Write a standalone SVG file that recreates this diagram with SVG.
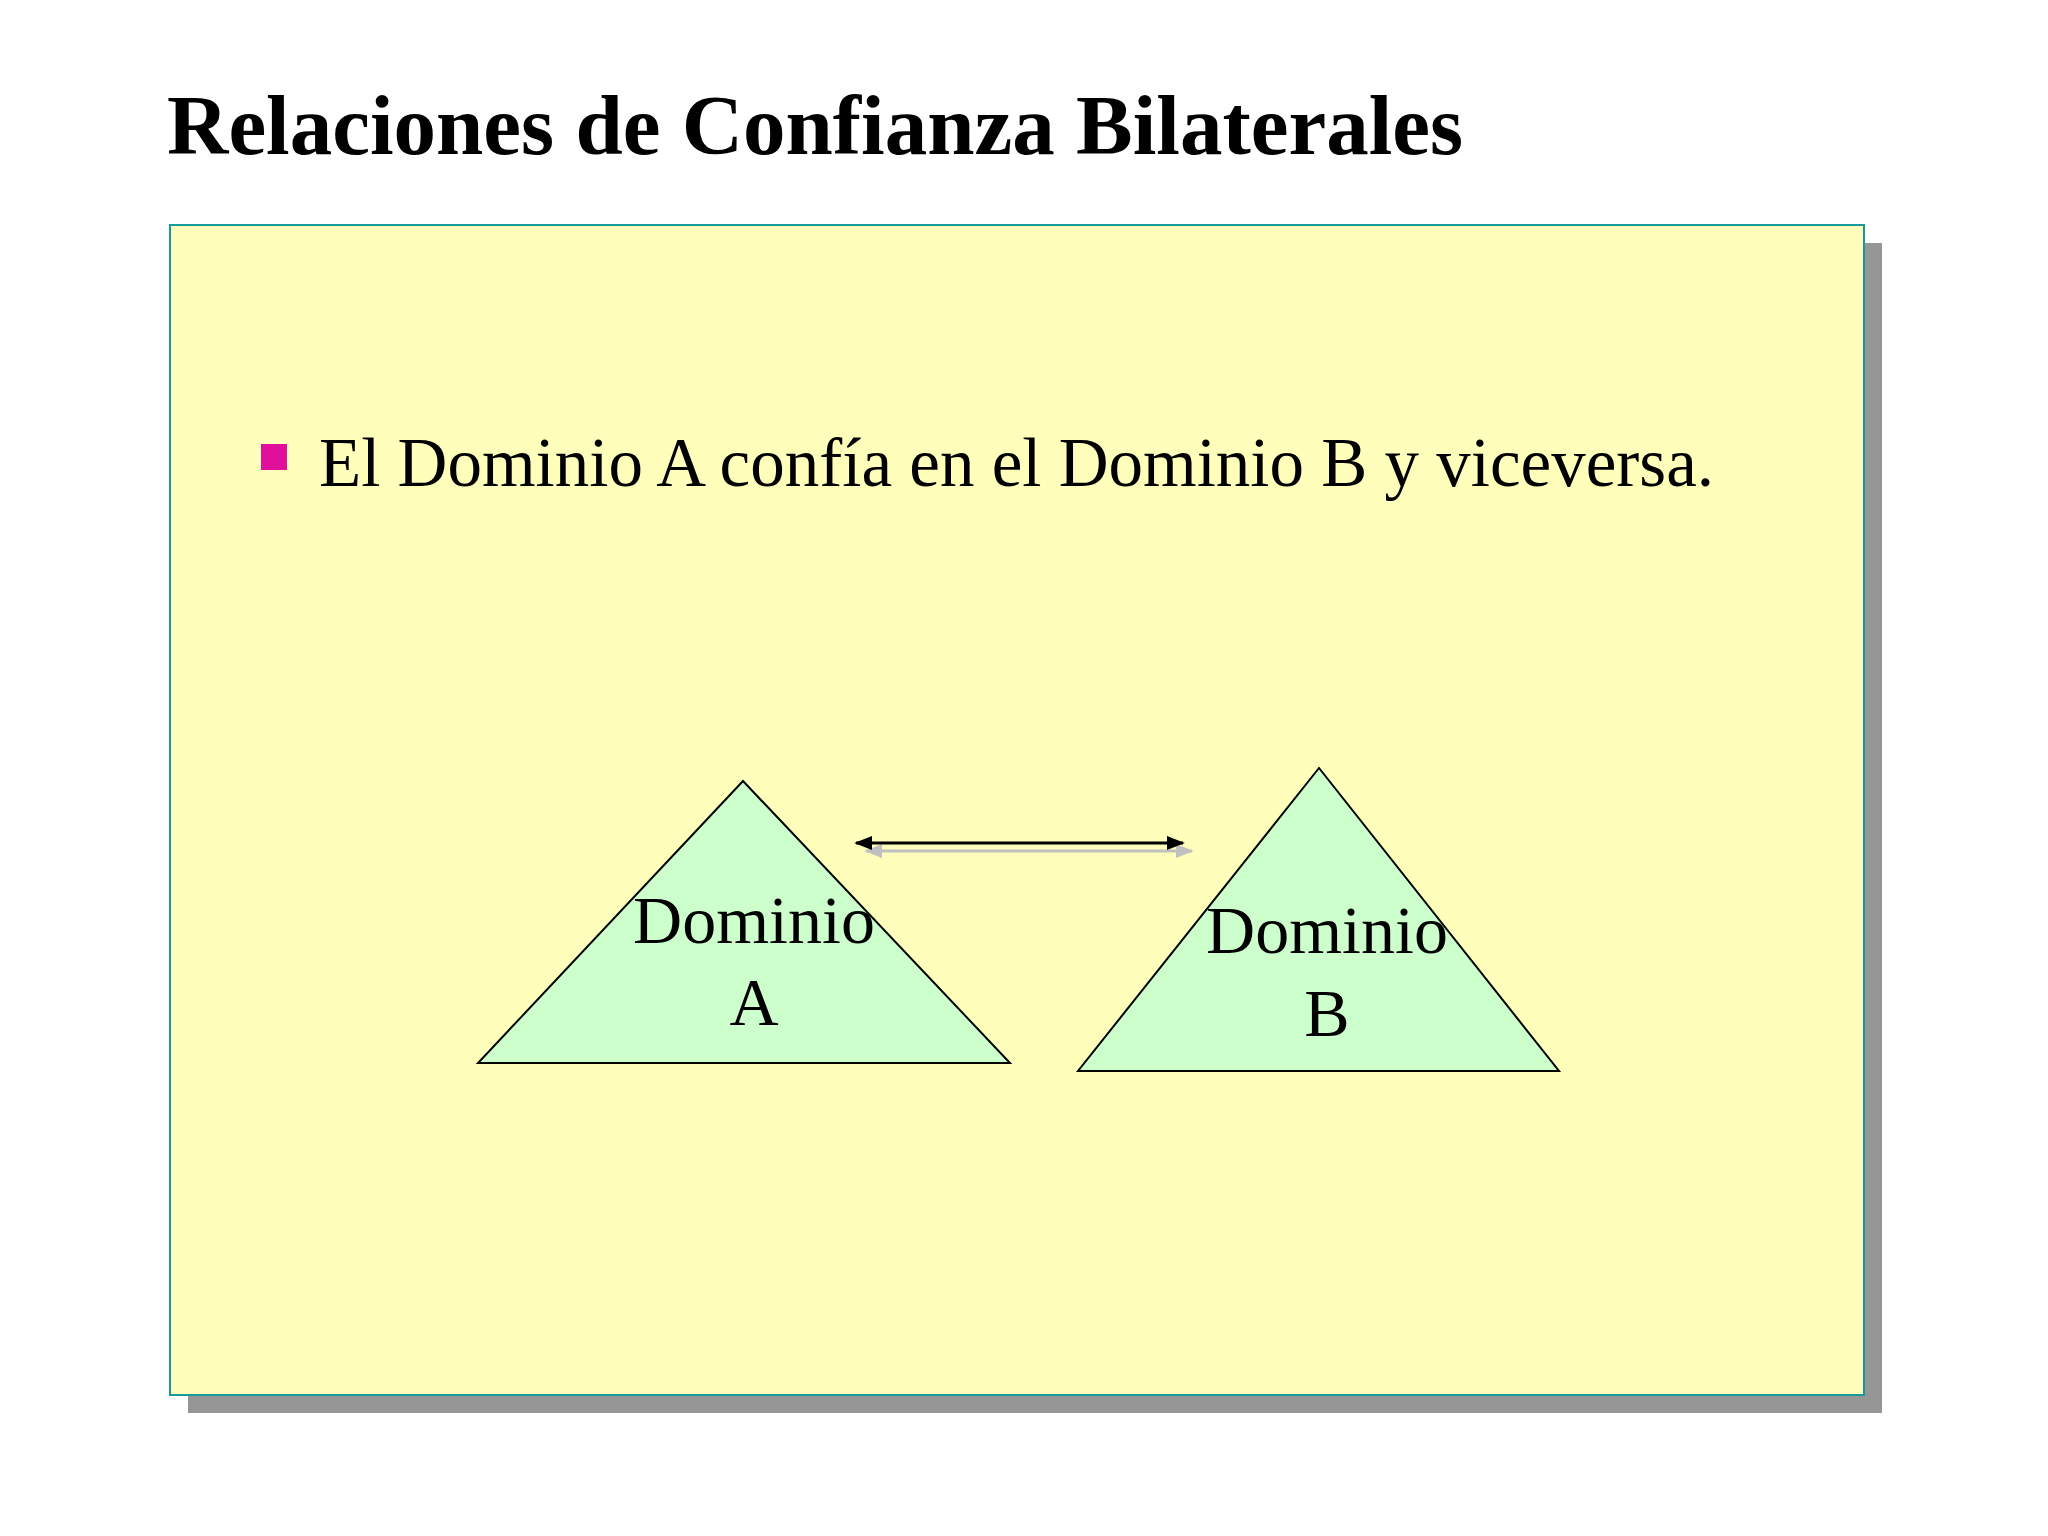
<svg xmlns="http://www.w3.org/2000/svg" width="2048" height="1536" viewBox="0 0 2048 1536">
<style>
.t{font-family:"Liberation Serif",serif;fill:#000}
.tri{fill:#ccffcc;stroke:#000;stroke-width:2}
</style>
<defs>
<marker id="ah" viewBox="0 0 10 10" refX="9" refY="5" markerWidth="6" markerHeight="6" orient="auto-start-reverse"><path d="M0,1 L10,5 L0,9 Z" fill="#000"/></marker>
<marker id="ahg" viewBox="0 0 10 10" refX="9" refY="5" markerWidth="6" markerHeight="6" orient="auto-start-reverse"><path d="M0,1 L10,5 L0,9 Z" fill="#c0c0c0"/></marker>
</defs>
<rect width="2048" height="1536" fill="#fff"/>
<text class="t" x="167" y="154" font-size="85" font-weight="bold">Relaciones de Confianza Bilaterales</text>
<rect x="188" y="243" width="1694" height="1170" fill="#969696"/>
<rect x="170" y="225" width="1694" height="1170" fill="#ffffbb" stroke="#169b9b" stroke-width="2"/>
<rect x="261" y="444" width="26" height="26" fill="#e0109a"/>
<text class="t" x="319" y="486" font-size="69">El Dominio A confía en el Dominio B y viceversa.</text>
<g id="connectors">
<line x1="866" y1="851" x2="1192" y2="851" stroke="#c0c0c0" stroke-width="3" marker-start="url(#ahg)" marker-end="url(#ahg)"/>
<line x1="856" y1="843" x2="1183" y2="843" stroke="#000" stroke-width="3" marker-start="url(#ah)" marker-end="url(#ah)"/>
</g>
<g id="domA">
<polygon class="tri" points="743,781 478,1063 1010,1063"/>
<text class="t" x="754" y="943" font-size="68" text-anchor="middle">Dominio</text>
<text class="t" x="754" y="1025" font-size="68" text-anchor="middle">A</text>
</g>
<g id="domB">
<polygon class="tri" points="1319,768 1078,1071 1559,1071"/>
<text class="t" x="1327" y="953" font-size="68" text-anchor="middle">Dominio</text>
<text class="t" x="1327" y="1036" font-size="68" text-anchor="middle">B</text>
</g>
</svg>
